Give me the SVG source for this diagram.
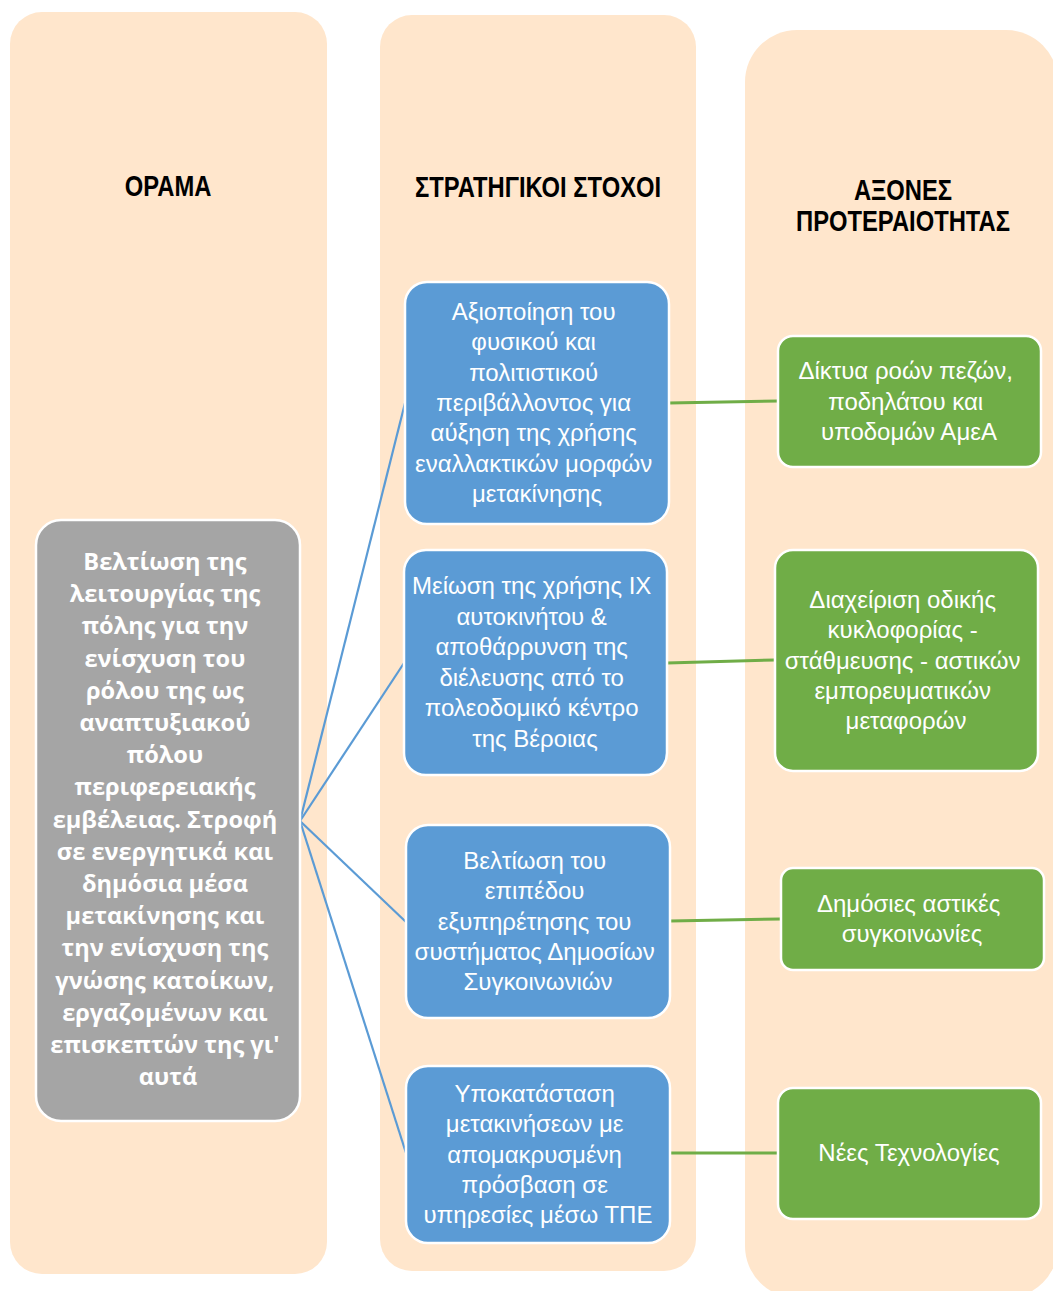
<svg xmlns="http://www.w3.org/2000/svg" width="1053" height="1291" viewBox="0 0 1053 1291">
<style>
.col{fill:#FFE6CC}
.hdr{font-family:"Liberation Sans",Arial,sans-serif;font-weight:bold;font-size:29px;fill:#000;text-anchor:middle}
.gray{fill:#A5A5A5;stroke:#fff;stroke-width:2.5}
.blue{fill:#5B9BD5;stroke:#fff;stroke-width:2.5}
.green{fill:#70AD47;stroke:#fff;stroke-width:2.5}
.gt{font-family:"Open Sans","DejaVu Sans",sans-serif;font-weight:bold;font-size:23.6px;fill:#fff;text-anchor:middle}
.bt{font-family:"Liberation Sans",Arial,sans-serif;font-size:24px;fill:#fff;text-anchor:middle}
.cb{stroke:#5B9BD5;stroke-width:2.2;fill:none}
.cg{stroke:#70AD47;stroke-width:3;fill:none}
</style>
<rect width="1053" height="1291" fill="#fff"/>
<g id="columns">
<rect class="col" x="10" y="12" width="317" height="1262" rx="32" ry="32"/>
<rect class="col" x="380" y="15" width="316" height="1256" rx="32" ry="32"/>
<rect class="col" x="745" y="30" width="313" height="1268" rx="52" ry="52"/>
<text class="hdr" transform="translate(168 196) scale(0.82 1)">ΟΡΑΜΑ</text>
<text class="hdr" transform="translate(538 197) scale(0.82 1)">ΣΤΡΑΤΗΓΙΚΟΙ ΣΤΟΧΟΙ</text>
<text class="hdr" transform="translate(903 200) scale(0.82 1)">ΑΞΟΝΕΣ</text>
<text class="hdr" transform="translate(903 231) scale(0.82 1)">ΠΡΟΤΕΡΑΙΟΤΗΤΑΣ</text>
</g>
<g id="connectors">
<line class="cb" x1="300" y1="821" x2="405" y2="403"/>
<line class="cb" x1="300" y1="821" x2="404" y2="663"/>
<line class="cb" x1="300" y1="821" x2="406" y2="922"/>
<line class="cb" x1="300" y1="821" x2="406" y2="1153"/>
<line class="cg" x1="669" y1="403" x2="778" y2="401"/>
<line class="cg" x1="667" y1="663" x2="775" y2="660"/>
<line class="cg" x1="670" y1="921" x2="781" y2="919"/>
<line class="cg" x1="670" y1="1153" x2="778" y2="1153"/>
</g>
<g id="vision">
<rect class="gray" x="36" y="520" width="264" height="601" rx="25" ry="25"/>
<text class="gt">
<tspan x="168" y="570">Βελτίωση της</tspan>
<tspan x="168" y="602.2">λειτουργίας της</tspan>
<tspan x="168" y="634.4">πόλης για την</tspan>
<tspan x="168" y="666.6">ενίσχυση του</tspan>
<tspan x="168" y="698.8">ρόλου της ως</tspan>
<tspan x="168" y="731">αναπτυξιακού</tspan>
<tspan x="168" y="763.2">πόλου</tspan>
<tspan x="168" y="795.4">περιφερειακής</tspan>
<tspan x="168" y="827.6">εμβέλειας. Στροφή</tspan>
<tspan x="168" y="859.8">σε ενεργητικά και</tspan>
<tspan x="168" y="892">δημόσια μέσα</tspan>
<tspan x="168" y="924.2">μετακίνησης και</tspan>
<tspan x="168" y="956.4">την ενίσχυση της</tspan>
<tspan x="168" y="988.6">γνώσης κατοίκων,</tspan>
<tspan x="168" y="1020.8">εργαζομένων και</tspan>
<tspan x="168" y="1053">επισκεπτών της γι'</tspan>
<tspan x="168" y="1085.2">αυτά</tspan>
</text>
</g>
<g id="goal1">
<rect class="blue" x="405" y="282" width="264" height="242" rx="22" ry="22"/>
<text class="bt">
<tspan x="537" y="320">Αξιοποίηση του</tspan>
<tspan x="537" y="350.3">φυσικού και</tspan>
<tspan x="537" y="380.6">πολιτιστικού</tspan>
<tspan x="537" y="411">περιβάλλοντος για</tspan>
<tspan x="537" y="441.3">αύξηση της χρήσης</tspan>
<tspan x="537" y="471.6">εναλλακτικών μορφών</tspan>
<tspan x="537" y="502">μετακίνησης</tspan>
</text>
</g>
<g id="goal2">
<rect class="blue" x="404" y="550" width="263" height="225" rx="22" ry="22"/>
<text class="bt">
<tspan x="535" y="594">Μείωση της χρήσης ΙΧ</tspan>
<tspan x="535" y="624.5">αυτοκινήτου &amp;</tspan>
<tspan x="535" y="655">αποθάρρυνση της</tspan>
<tspan x="535" y="685.5">διέλευσης από το</tspan>
<tspan x="535" y="716">πολεοδομικό κέντρο</tspan>
<tspan x="535" y="746.5">της Βέροιας</tspan>
</text>
</g>
<g id="goal3">
<rect class="blue" x="406" y="825" width="264" height="193" rx="22" ry="22"/>
<text class="bt">
<tspan x="538" y="869">Βελτίωση του</tspan>
<tspan x="538" y="899.3">επιπέδου</tspan>
<tspan x="538" y="929.6">εξυπηρέτησης του</tspan>
<tspan x="538" y="960">συστήματος Δημοσίων</tspan>
<tspan x="538" y="990.3">Συγκοινωνιών</tspan>
</text>
</g>
<g id="goal4">
<rect class="blue" x="406" y="1066" width="264" height="177" rx="22" ry="22"/>
<text class="bt">
<tspan x="538" y="1102">Υποκατάσταση</tspan>
<tspan x="538" y="1132.3">μετακινήσεων με</tspan>
<tspan x="538" y="1162.6">απομακρυσμένη</tspan>
<tspan x="538" y="1193">πρόσβαση σε</tspan>
<tspan x="538" y="1223.3">υπηρεσίες μέσω ΤΠΕ</tspan>
</text>
</g>
<g id="axis1">
<rect class="green" x="778" y="336" width="263" height="131" rx="15" ry="15"/>
<text class="bt">
<tspan x="909" y="379">Δίκτυα ροών πεζών,</tspan>
<tspan x="909" y="409.5">ποδηλάτου και</tspan>
<tspan x="909" y="440">υποδομών ΑμεΑ</tspan>
</text>
</g>
<g id="axis2">
<rect class="green" x="775" y="550" width="263" height="221" rx="18" ry="18"/>
<text class="bt">
<tspan x="906" y="608">Διαχείριση οδικής</tspan>
<tspan x="906" y="638.3">κυκλοφορίας -</tspan>
<tspan x="906" y="668.6">στάθμευσης - αστικών</tspan>
<tspan x="906" y="699">εμπορευματικών</tspan>
<tspan x="906" y="729.3">μεταφορών</tspan>
</text>
</g>
<g id="axis3">
<rect class="green" x="781" y="868" width="263" height="102" rx="12" ry="12"/>
<text class="bt">
<tspan x="912" y="912">Δημόσιες αστικές</tspan>
<tspan x="912" y="942">συγκοινωνίες</tspan>
</text>
</g>
<g id="axis4">
<rect class="green" x="778" y="1088" width="263" height="131" rx="15" ry="15"/>
<text class="bt">
<tspan x="909" y="1161">Νέες Τεχνολογίες</tspan>
</text>
</g>
</svg>
